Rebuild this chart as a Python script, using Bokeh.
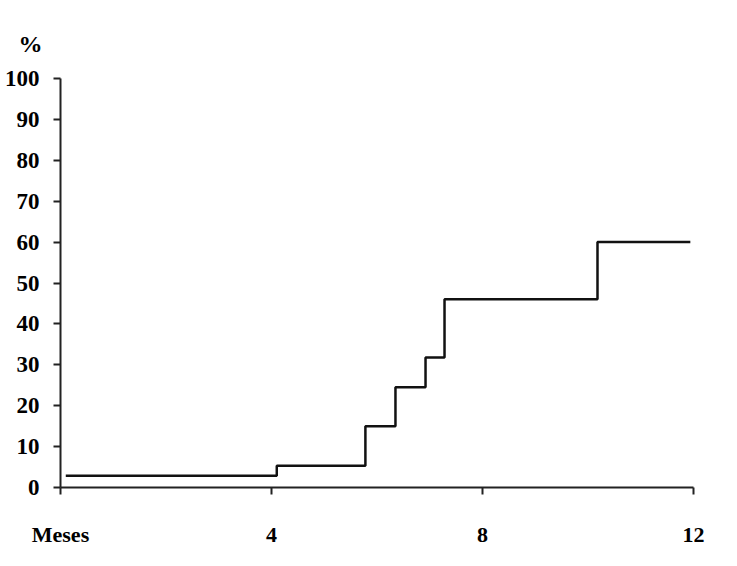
from bokeh.plotting import figure
from bokeh.models import Range1d, FixedTicker, Title
from bokeh.embed import file_html
from bokeh.resources import INLINE

# data (months, cumulative %)
months = [0.1, 4.1, 5.78, 6.35, 6.92, 7.28, 10.18, 11.94]
percent = [2.9, 5.3, 15.0, 24.5, 31.8, 46.0, 60.0, 60.0]
x_ticks = [0, 4, 8, 12]
x_tick_labels = {0: "Meses", 4: "4", 8: "8", 12: "12"}
y_ticks = [0, 10, 20, 30, 40, 50, 60, 70, 80, 90, 100]

p = figure(width=721, height=549, output_backend="svg", toolbar_location=None,
           x_range=Range1d(0, 12), y_range=Range1d(0, 100),
           min_border_left=60, min_border_right=28, min_border_top=78, min_border_bottom=60)
p.outline_line_color = None
p.grid.visible = False
p.background_fill_color = "white"

p.step(months, percent, mode="after", line_color="#111111", line_width=2.5)

font = "Liberation Serif"
for ax in (p.xaxis, p.yaxis):
    ax.axis_line_color = "#222222"
    ax.axis_line_width = 2
    ax.major_tick_line_color = "#222222"
    ax.major_tick_line_width = 2
    ax.major_tick_out = 7
    ax.major_tick_in = 0
    ax.minor_tick_line_color = None
    ax.major_label_text_font = font
    ax.major_label_text_font_style = "bold"
    ax.major_label_text_color = "black"

p.xaxis.ticker = FixedTicker(ticks=x_ticks)
p.xaxis.major_label_overrides = x_tick_labels
p.xaxis.major_label_text_font_size = "22px"
p.xaxis.major_label_standoff = 27

p.yaxis.ticker = FixedTicker(ticks=y_ticks)
p.yaxis.major_label_text_font_size = "23px"
p.yaxis.major_label_standoff = 14

pct = Title(text="%", align="left", offset=-42, standoff=44,
            text_font=font, text_font_style="bold", text_font_size="24px",
            text_color="black")
p.add_layout(pct, "above")

open("out.html", "w").write(file_html(p, INLINE))
